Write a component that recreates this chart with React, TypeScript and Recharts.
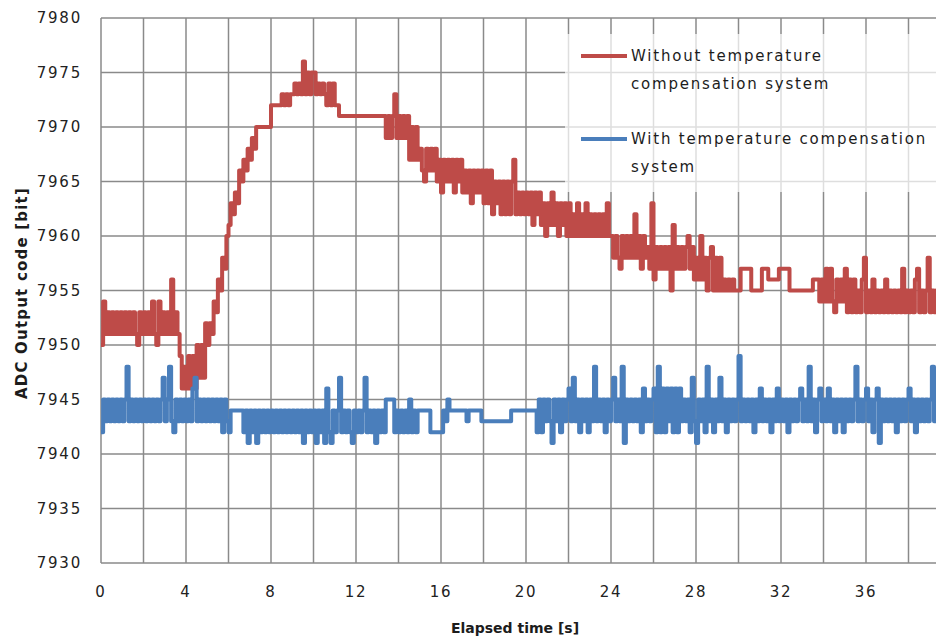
import { CartesianGrid, Legend, Line, LineChart, XAxis, YAxis } from "recharts";

// ADC output sampled every 0.1 s over 40 s
const SAMPLE_STEP = 0.1;

const withoutCompensation = [
  7950, 7954, 7951, 7953, 7951, 7953, 7951, 7953, 7951, 7953,
  7951, 7953, 7951, 7953, 7951, 7953, 7951, 7950, 7953, 7951,
  7953, 7951, 7953, 7951, 7954, 7951, 7950, 7954, 7951, 7953,
  7951, 7953, 7951, 7956, 7951, 7953, 7951, 7949, 7946, 7948,
  7946, 7949, 7946, 7949, 7946, 7950, 7947, 7950, 7947, 7952,
  7950, 7952, 7951, 7954, 7953, 7956, 7955, 7958, 7957, 7960,
  7961, 7963, 7962, 7964, 7963, 7966, 7965, 7967, 7966, 7968,
  7967, 7969, 7968, 7970, 7970, 7970, 7970, 7970, 7970, 7970,
  7972, 7972, 7972, 7972, 7972, 7973, 7972, 7973, 7972, 7973,
  7973, 7974, 7973, 7974, 7973, 7976, 7973, 7975, 7973, 7975,
  7975, 7973, 7974, 7973, 7974, 7973, 7972, 7974, 7972, 7974,
  7972, 7972, 7971, 7971, 7971, 7971, 7971, 7971, 7971, 7971,
  7971, 7971, 7971, 7971, 7971, 7971, 7971, 7971, 7971, 7971,
  7971, 7971, 7971, 7971, 7969, 7971, 7969, 7971, 7973, 7969,
  7971, 7969, 7971, 7969, 7971, 7967, 7970, 7967, 7970, 7967,
  7968, 7966, 7965, 7968, 7966, 7968, 7966, 7968, 7965, 7967,
  7964, 7967, 7965, 7967, 7965, 7967, 7964, 7967, 7965, 7967,
  7964, 7966, 7964, 7966, 7963, 7966, 7964, 7966, 7964, 7966,
  7963, 7966, 7963, 7966, 7962, 7965, 7963, 7965, 7962, 7965,
  7962, 7965, 7962, 7965, 7967, 7962, 7964, 7962, 7964, 7962,
  7964, 7962, 7964, 7961, 7964, 7962, 7964, 7961, 7963, 7960,
  7963, 7961, 7964, 7961, 7963, 7960, 7963, 7961, 7963, 7960,
  7963, 7960, 7962, 7960, 7963, 7960, 7962, 7960, 7963, 7960,
  7962, 7960, 7962, 7960, 7962, 7960, 7962, 7960, 7963, 7960,
  7960, 7958, 7960, 7958, 7957, 7960, 7958, 7960, 7958, 7960,
  7958, 7962, 7958, 7960, 7957, 7960, 7958, 7959, 7957, 7963,
  7956, 7959, 7957, 7959, 7957, 7959, 7957, 7959, 7955, 7961,
  7957, 7959, 7957, 7959, 7957, 7959, 7960, 7957, 7959, 7956,
  7958, 7956, 7960, 7956, 7958, 7955, 7958, 7959, 7955, 7958,
  7955, 7958, 7955, 7956, 7955, 7956, 7955, 7956, 7955, 7955,
  7955, 7957, 7957, 7957, 7957, 7957, 7955, 7955, 7955, 7955,
  7955, 7957, 7957, 7957, 7956, 7956, 7956, 7956, 7956, 7957,
  7957, 7957, 7957, 7957, 7955, 7955, 7955, 7955, 7955, 7955,
  7955, 7955, 7955, 7955, 7955, 7956, 7956, 7956, 7954, 7956,
  7954, 7957, 7954, 7957, 7954, 7953, 7956, 7954, 7956, 7954,
  7957, 7953, 7956, 7953, 7956, 7953, 7955, 7953, 7956, 7958,
  7953, 7955, 7953, 7956, 7953, 7955, 7953, 7955, 7953, 7956,
  7953, 7955, 7953, 7955, 7953, 7955, 7953, 7957, 7953, 7955,
  7953, 7955, 7953, 7956, 7957, 7953, 7955, 7953, 7955, 7958,
  7953, 7955, 7953, 7955, 7953, 7955, 7953, 7955, 7953, 7955,
  7954,
];

const withCompensation = [
  7942, 7945, 7943, 7945, 7943, 7945, 7943, 7945, 7943, 7945,
  7943, 7945, 7948, 7943, 7945, 7943, 7945, 7943, 7945, 7943,
  7945, 7943, 7945, 7943, 7945, 7943, 7945, 7943, 7945, 7947,
  7943, 7945, 7948, 7943, 7942, 7945, 7943, 7945, 7943, 7945,
  7943, 7945, 7943, 7946, 7947, 7943, 7945, 7943, 7945, 7943,
  7945, 7943, 7945, 7943, 7945, 7943, 7945, 7942, 7945, 7943,
  7942, 7944, 7944, 7944, 7944, 7944, 7944, 7942, 7944, 7941,
  7944, 7942, 7944, 7941, 7944, 7942, 7944, 7942, 7944, 7942,
  7944, 7942, 7944, 7942, 7944, 7942, 7944, 7942, 7944, 7942,
  7944, 7942, 7944, 7942, 7944, 7941, 7944, 7942, 7944, 7942,
  7944, 7941, 7944, 7942, 7944, 7941, 7946, 7942, 7941, 7944,
  7942, 7944, 7947, 7942, 7944, 7942, 7944, 7942, 7941, 7944,
  7942, 7944, 7942, 7944, 7947, 7942, 7944, 7942, 7944, 7941,
  7944, 7942, 7944, 7942, 7945, 7945, 7945, 7945, 7942, 7944,
  7942, 7944, 7942, 7944, 7942, 7945, 7942, 7944, 7942, 7944,
  7944, 7944, 7944, 7944, 7944, 7942, 7942, 7942, 7942, 7942,
  7942, 7944, 7943, 7945, 7944, 7944, 7944, 7944, 7944, 7944,
  7944, 7944, 7943, 7944, 7944, 7944, 7944, 7944, 7944, 7943,
  7943, 7943, 7943, 7943, 7943, 7943, 7943, 7943, 7943, 7943,
  7943, 7943, 7943, 7944, 7944, 7944, 7944, 7944, 7944, 7944,
  7944, 7944, 7944, 7944, 7944, 7942, 7945, 7942, 7945, 7943,
  7945, 7943, 7941, 7945, 7943, 7945, 7942, 7945, 7943, 7945,
  7946, 7943, 7947, 7943, 7945, 7942, 7945, 7943, 7945, 7942,
  7945, 7943, 7948, 7943, 7945, 7943, 7945, 7942, 7945, 7943,
  7945, 7947, 7943, 7945, 7943, 7948, 7941, 7945, 7943, 7945,
  7943, 7945, 7943, 7945, 7942, 7946, 7943, 7945, 7943, 7945,
  7946, 7942, 7948, 7942, 7946, 7942, 7946, 7943, 7946, 7942,
  7946, 7942, 7946, 7943, 7945, 7943, 7945, 7942, 7947, 7943,
  7941, 7945, 7943, 7945, 7942, 7948, 7943, 7945, 7942, 7945,
  7943, 7947, 7943, 7945, 7942, 7945, 7943, 7945, 7943, 7945,
  7949, 7943, 7945, 7943, 7945, 7943, 7945, 7942, 7945, 7943,
  7946, 7943, 7945, 7943, 7945, 7942, 7945, 7943, 7946, 7943,
  7945, 7943, 7945, 7942, 7945, 7943, 7945, 7943, 7945, 7946,
  7943, 7945, 7943, 7948, 7943, 7945, 7942, 7945, 7946, 7943,
  7945, 7943, 7946, 7943, 7945, 7942, 7945, 7943, 7945, 7942,
  7945, 7943, 7945, 7943, 7945, 7948, 7943, 7945, 7943, 7945,
  7946, 7943, 7945, 7942, 7945, 7946, 7941, 7945, 7943, 7945,
  7943, 7945, 7943, 7945, 7942, 7945, 7943, 7945, 7943, 7945,
  7946, 7943, 7945, 7942, 7945, 7943, 7945, 7943, 7945, 7943,
  7945, 7948, 7943, 7945, 7942, 7945, 7943, 7945, 7943, 7945,
  7944,
];

const timeTicks = [0, 2, 4, 6, 8, 10, 12, 14, 16, 18, 20, 22, 24, 26, 28, 30, 32, 34, 36, 38, 40];
const codeTicks = [7930, 7935, 7940, 7945, 7950, 7955, 7960, 7965, 7970, 7975, 7980];

const seriesNames = {
  without: "Without temperature\ncompensation system",
  with: "With temperature compensation\nsystem",
};
const legendOrder = ["without", "with"];

const data = withoutCompensation.map((value, i) => ({
  t: Math.round(i * SAMPLE_STEP * 10) / 10,
  without: value,
  with: withCompensation[i],
}));

const FONT = "'DejaVu Sans', sans-serif";
const tickStyle = { fill: "#222", fontSize: 15, fontFamily: FONT, letterSpacing: 1.8 };

function ChartLegend({ payload }: { payload?: any[] }) {
  const items = [...(payload ?? [])].sort(
    (a, b) => legendOrder.indexOf(a.dataKey) - legendOrder.indexOf(b.dataKey)
  );
  return (
    <div style={{ padding: "8px 0 0 16px", fontFamily: FONT, fontSize: 15, letterSpacing: 1.8, color: "#1c1c1c" }}>
      {items.map((entry) => (
        <div key={entry.dataKey} style={{ display: "flex", alignItems: "flex-start", marginBottom: 27 }}>
          <span style={{ width: 46, height: 4, background: entry.color, marginTop: 12, marginRight: 4, flex: "none" }} />
          <span style={{ whiteSpace: "pre-line", lineHeight: "28px" }}>{entry.value}</span>
        </div>
      ))}
    </div>
  );
}

export default function App() {
  return (
    <div style={{ position: "fixed", left: 0, top: 0, width: 936, height: 638, overflow: "hidden", background: "#fff", fontFamily: FONT }}>
      <LineChart width={960} height={638} data={data} margin={{ top: 18, right: 9, bottom: 45, left: 0 }}>
        <CartesianGrid stroke="#8a8a8a" strokeWidth={1.5} />
        <XAxis
          dataKey="t"
          type="number"
          domain={[0, 40]}
          ticks={timeTicks}
          interval={0}
          height={30}
          axisLine={false}
          tickLine={false}
          tickSize={6}
          tickMargin={17}
          tick={tickStyle}
          tickFormatter={(v: number) => (v % 4 === 0 && v < 40 ? String(v) : "")}
          label={{
            content: () => (
              <text x={515} y={628} textAnchor="middle" dominantBaseline="central" fontFamily={FONT} fontWeight="bold" fontSize={14} fill="#1c1c1c">
                Elapsed time [s]
              </text>
            ),
          }}
        />
        <YAxis
          type="number"
          domain={[7930, 7980]}
          ticks={codeTicks}
          interval={0}
          width={101}
          axisLine={false}
          tickLine={false}
          tickSize={6}
          tickMargin={13}
          tick={tickStyle}
          label={{
            content: () => (
              <text x={22} y={293} textAnchor="middle" dominantBaseline="central" transform="rotate(-90 22 293)" fontFamily={FONT} fontWeight="bold" fontSize={15} letterSpacing={1.2} fill="#1c1c1c">
                ADC Output code [bit]
              </text>
            ),
          }}
        />
        <Legend
          layout="horizontal"
          verticalAlign="middle"
          align="center"
          content={<ChartLegend />}
          wrapperStyle={{ left: 565, top: 34, width: 400, height: 158, background: "rgba(255,255,255,0.72)" }}
        />
        <Line
          dataKey="without"
          name={seriesNames.without}
          type="stepAfter"
          stroke="#be4b48"
          strokeWidth={4}
          strokeLinejoin="round"
          dot={false}
          isAnimationActive={false}
        />
        <Line
          dataKey="with"
          name={seriesNames.with}
          type="stepAfter"
          stroke="#4a7ebb"
          strokeWidth={4}
          strokeLinejoin="round"
          dot={false}
          isAnimationActive={false}
        />
      </LineChart>
    </div>
  );
}
